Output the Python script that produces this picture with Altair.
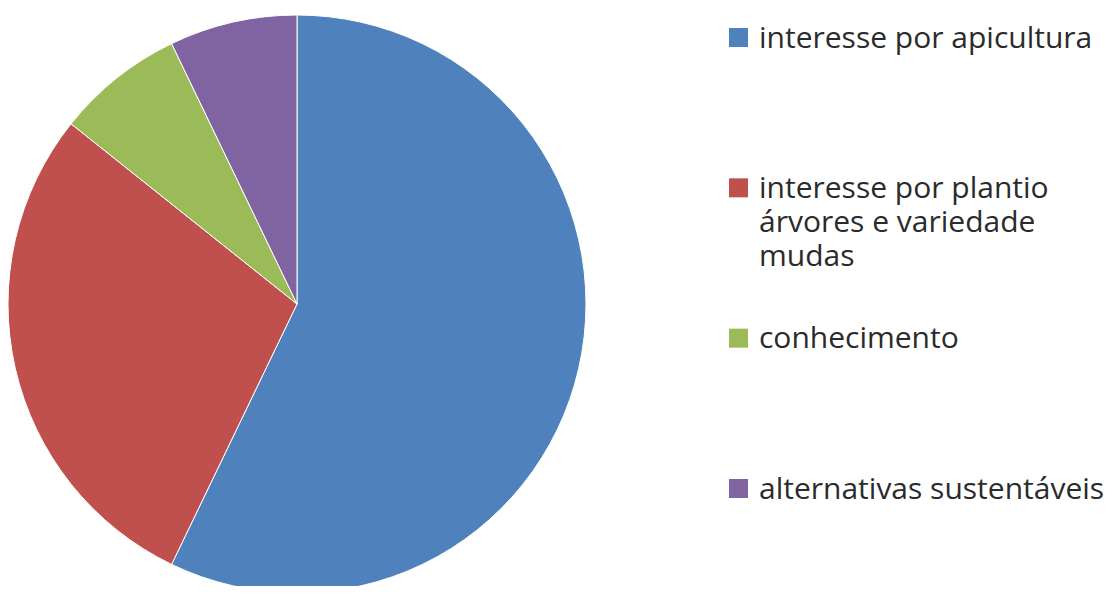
import altair as alt
import pandas as pd

categories = [
    "interesse por apicultura",
    "interesse por plantio árvores e variedade mudas",
    "conhecimento",
    "alternativas sustentáveis",
]
legend_labels = [
    "interesse por apicultura",
    "interesse por plantio\nárvores e variedade\nmudas",
    "conhecimento",
    "alternativas sustentáveis",
]
values = [8, 4, 1, 1]
colors = ["#4F81BD", "#C0504D", "#9BBB59", "#8064A2"]

df = pd.DataFrame({
    "cat": categories,
    "label": legend_labels,
    "value": values,
    "order": list(range(len(categories))),
})

color_scale = alt.Scale(domain=categories, range=colors)

base = alt.Chart(df)

pie = base.mark_arc(outerRadius=289, stroke="white", strokeWidth=1).encode(
    theta=alt.Theta("value:Q", stack=True),
    color=alt.Color("cat:N", scale=color_scale, legend=None),
    order=alt.Order("order:Q"),
    x=alt.value(289),
    y=alt.value(296),
)

ypos = alt.Y("cat:N", scale=alt.Scale(domain=categories, type="point", range=[29.5, 480.5], padding=0), axis=None)

squares = base.mark_square(size=361, opacity=1).encode(
    x=alt.value(730.5),
    y=ypos,
    color=alt.Color("cat:N", scale=color_scale, legend=None),
)

texts = base.mark_text(
    align="left", baseline="alphabetic", lineBreak="\n",
    font="Open Sans", fontSize=30, color="#2b2b2b", dy=10, lineHeight=34,
).encode(
    x=alt.value(751),
    y=ypos,
    text="label:N",
)

chart = alt.layer(pie, squares, texts).properties(
    width=1100, height=578, padding=0,
    autosize=alt.AutoSizeParams(type="none"),
).configure_view(stroke=None)

chart.save("out.html", embed_options={"renderer": "svg", "actions": False})
